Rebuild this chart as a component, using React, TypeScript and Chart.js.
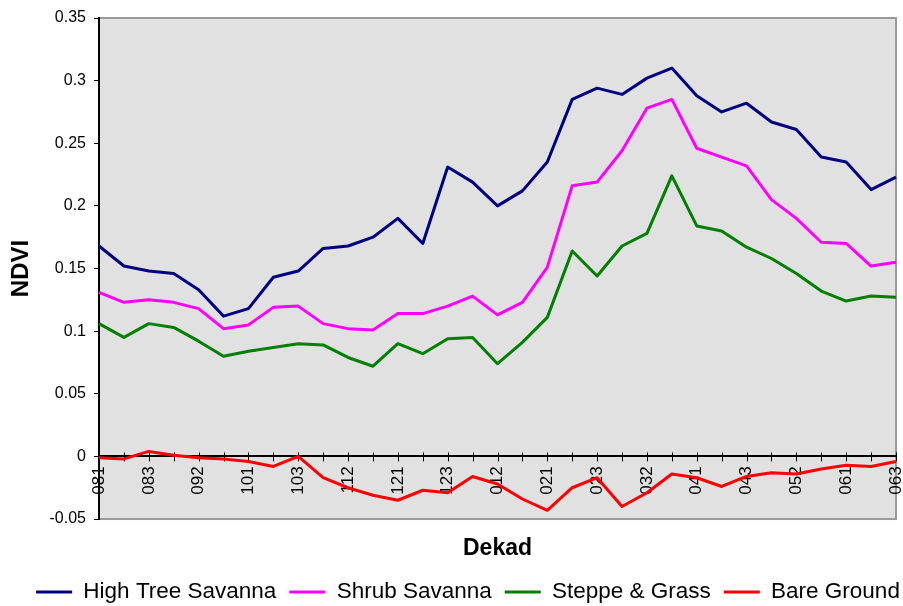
import React, { useEffect, useRef } from "react";
import { Chart, registerables } from "chart.js";

Chart.register(...registerables);

const dekads = [
  "081", "082", "083", "091", "092", "093", "101", "102", "103", "111", "112",
  "113", "121", "122", "123", "011", "012", "013", "021", "022", "023", "031",
  "032", "033", "041", "042", "043", "051", "052", "053", "061", "062", "063",
];

const highTreeSavanna = [
  0.168, 0.152, 0.148, 0.146, 0.133, 0.112, 0.118, 0.143, 0.148, 0.166, 0.168,
  0.175, 0.19, 0.17, 0.231, 0.219, 0.2, 0.212, 0.235, 0.285, 0.294, 0.289,
  0.302, 0.31, 0.288, 0.275, 0.282, 0.267, 0.261, 0.239, 0.235, 0.213, 0.223,
];

const shrubSavanna = [
  0.131, 0.123, 0.125, 0.123, 0.118, 0.102, 0.105, 0.119, 0.12, 0.106, 0.102,
  0.101, 0.114, 0.114, 0.12, 0.128, 0.113, 0.123, 0.151, 0.216, 0.219, 0.244,
  0.278, 0.285, 0.246, 0.239, 0.232, 0.205, 0.19, 0.171, 0.17, 0.152, 0.155,
];

const steppeGrass = [
  0.106, 0.095, 0.106, 0.103, 0.092, 0.08, 0.084, 0.087, 0.09, 0.089, 0.079,
  0.072, 0.09, 0.082, 0.094, 0.095, 0.074, 0.091, 0.111, 0.164, 0.144, 0.168,
  0.178, 0.224, 0.184, 0.18, 0.167, 0.158, 0.146, 0.132, 0.124, 0.128, 0.127,
];

const bareGround = [
  -0.001, -0.002, 0.004, 0.001, -0.001, -0.002, -0.004, -0.008, 0.0, -0.017,
  -0.025, -0.031, -0.035, -0.027, -0.029, -0.016, -0.022, -0.034, -0.043,
  -0.025, -0.017, -0.04, -0.029, -0.014, -0.017, -0.024, -0.016, -0.013,
  -0.014, -0.01, -0.007, -0.008, -0.004,
];

const seriesNames = ["High Tree Savanna", "Shrub Savanna", "Steppe & Grass", "Bare Ground"];
const seriesColors = ["#000080", "#ff00ff", "#008000", "#ff0000"];

const FONT = "'Liberation Sans', Arial, sans-serif";

const plotDecor = {
  id: "plotDecor",
  beforeDraw(chart: any) {
    const { ctx, chartArea: a } = chart;
    ctx.save();
    ctx.fillStyle = "#e1e1e1";
    ctx.fillRect(a.left, a.top, a.right - a.left, a.bottom - a.top);
    ctx.strokeStyle = "#9a9a9a";
    ctx.lineWidth = 2;
    ctx.strokeRect(a.left, a.top, a.right - a.left, a.bottom - a.top);
    ctx.restore();
  },
  beforeDatasetsDraw(chart: any) {
    const { ctx } = chart;
    const xs = chart.scales.x;
    const ys = chart.scales.y;
    const y0 = ys.getPixelForValue(0);
    ctx.save();
    ctx.strokeStyle = "#000";
    ctx.lineWidth = 1;
    ctx.beginPath();
    xs.ticks.forEach((_: any, i: number) => {
      const x = Math.round(xs.getPixelForTick(i)) + 0.5;
      ctx.moveTo(x, y0 - 4);
      ctx.lineTo(x, y0 + 5);
    });
    ctx.stroke();
    ctx.restore();
  },
};

export default function App() {
  const ref = useRef<HTMLCanvasElement | null>(null);

  useEffect(() => {
    if (!ref.current) return;
    const allData = [highTreeSavanna, shrubSavanna, steppeGrass, bareGround];
    const chart = new Chart(ref.current, {
      type: "line",
      data: {
        labels: dekads,
        datasets: allData.map((d, i) => ({
          label: seriesNames[i],
          data: d,
          borderColor: seriesColors[i],
          backgroundColor: seriesColors[i],
          borderWidth: 3,
          pointRadius: 0,
          pointHoverRadius: 0,
          tension: 0,
          borderJoinStyle: "round" as const,
        })),
      },
      options: {
        animation: false,
        responsive: false,
        events: [],
        layout: { padding: { left: 3, right: -30, top: 18, bottom: -7.25 } },
        scales: {
          x: {
            type: "category",
            position: { y: 0 } as any,
            offset: false,
            grid: { display: false, drawTicks: false },
            border: { display: true, color: "#000", width: 2 },
            ticks: {
              autoSkip: false,
              maxRotation: 90,
              minRotation: 90,
              padding: 10,
              color: "#000",
              font: { family: FONT, size: 17 },
              callback: (_v: any, i: number) => (i % 2 === 0 ? dekads[i] : ""),
            },
            afterFit: (s: any) => {
              s.paddingLeft = 0;
              s.paddingRight = 7;
            },
          },
          y: {
            min: -0.05,
            max: 0.35,
            grid: {
              drawOnChartArea: false,
              drawTicks: true,
              tickLength: 5,
              color: "#000",
              lineWidth: 1,
            },
            border: { display: true, color: "#000", width: 2 },
            ticks: {
              stepSize: 0.05,
              padding: 8,
              color: "#000",
              font: { family: FONT, size: 16 },
              callback: (v: any) => String(Math.round(Number(v) * 100) / 100),
            },
            title: {
              display: true,
              text: "NDVI",
              color: "#000",
              font: { family: FONT, size: 24, weight: "bold" },
              padding: { top: 4, bottom: 0 },
            },
            afterFit: (s: any) => {
              s.width = 96;
            },
          },
        },
        plugins: {
          title: {
            display: true,
            text: "Dekad",
            position: "bottom",
            fullSize: false,
            weight: 500,
            color: "#000",
            font: { family: FONT, size: 23, weight: "bold" },
            padding: { top: 15.5, bottom: 5.6 },
          } as any,
          legend: {
            display: true,
            position: "bottom",
            labels: {
              usePointStyle: true,
              pointStyle: "line",
              pointStyleWidth: 36,
              padding: 13,
              color: "#000",
              font: { family: FONT, size: 22.5 },
            } as any,
          },
          tooltip: { enabled: false },
        },
      },
      plugins: [plotDecor],
    });
    return () => chart.destroy();
  }, []);

  return (
    <div style={{ position: "absolute", left: 0, top: 0, width: 903, height: 606 }}>
      <canvas ref={ref} width={903} height={606} />
    </div>
  );
}
